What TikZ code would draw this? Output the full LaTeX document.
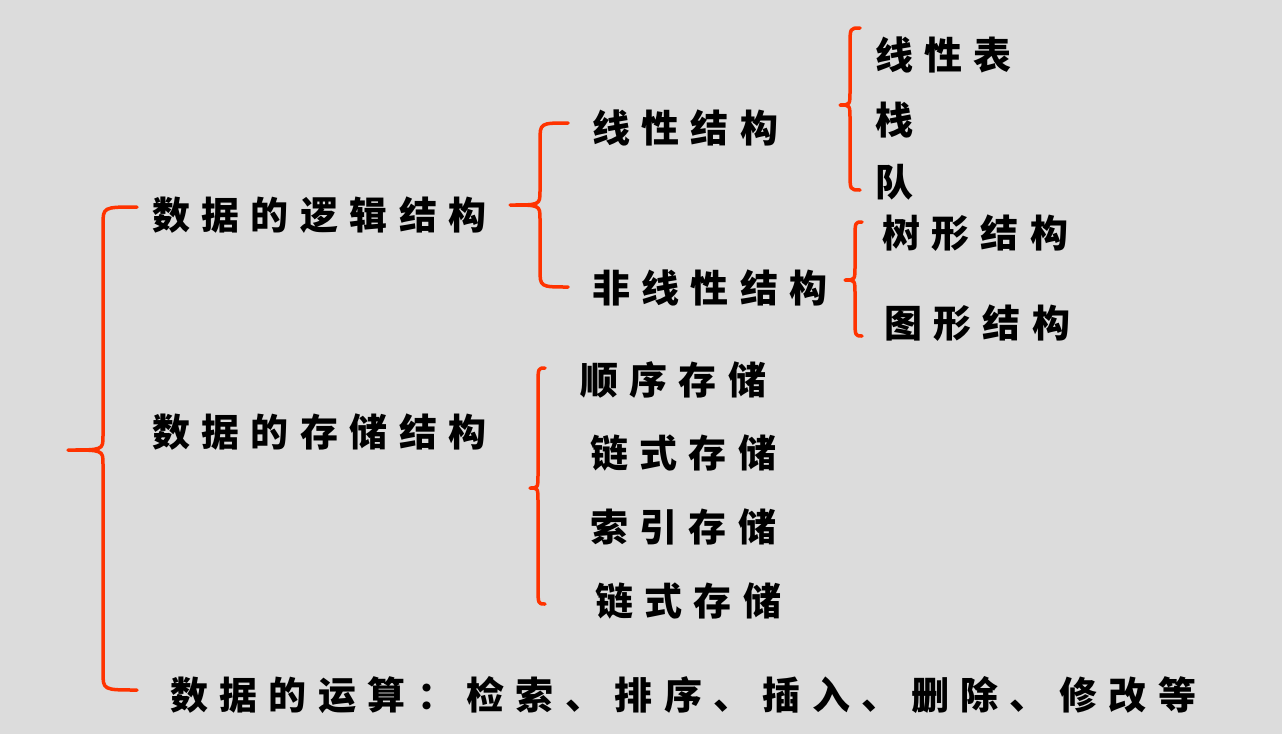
\documentclass[tikz,border=0pt]{standalone}
\usepackage{fontspec}
\newfontfamily\cjk[LetterSpace=30]{Noto Sans CJK SC}
\definecolor{bg}{RGB}{220,220,220}
\definecolor{br}{RGB}{255,51,0}
\newcommand{\mybrace}[6]{% xend, xspine, xtip, ytop, ymid, ybot
  \draw[brc] (#1,#4) .. controls (#2,#4) .. (#2,#4+18) -- (#2,#5-14) .. controls (#2,#5) .. (#3,#5)
   .. controls (#2,#5) .. (#2,#5+14) -- (#2,#6-18) .. controls (#2,#6) .. (#1,#6);}
\begin{document}
\begin{tikzpicture}[x=1pt,y=-1pt,
  brc/.style={draw=br,line width=3.5pt,line cap=round,line join=round},
  t/.style={anchor=west,inner sep=0pt,font=\cjk\bfseries\fontsize{38}{38}\selectfont}]
\fill[bg] (0,0) rectangle (1282,734);
\useasboundingbox (0,0) rectangle (1282,734);
\mybrace{137}{103}{68}{207}{450}{690}
\mybrace{568}{540}{510}{123}{205}{287}
\mybrace{860}{850}{840}{28}{105}{190}
\mybrace{862}{855}{845}{222}{280}{336}
\mybrace{545}{538}{530}{368}{488}{604}
\node[t] (a) at (152,215) {数据的逻辑结构};
\node[t] (b) at (592,128) {线性结构};
\node[t] (c) at (592,288) {非线性结构};
\node[t] (d) at (875,55) {线性表};
\node[t] (e) at (875,120) {栈};
\node[t] (f) at (875,182) {队};
\node[t] (g) at (882,233) {树形结构};
\node[t] (h) at (884,323) {图形结构};
\node[t] (i) at (152,432) {数据的存储结构};
\node[t] (j) at (580,380) {顺序存储};
\node[t] (k) at (590,453) {链式存储};
\node[t] (l) at (590,527) {索引存储};
\node[t] (m) at (595,601) {链式存储};
\node[t] (n) at (170,695) {数据的运算：检索、排序、插入、删除、修改等};
\end{tikzpicture}
\end{document}
